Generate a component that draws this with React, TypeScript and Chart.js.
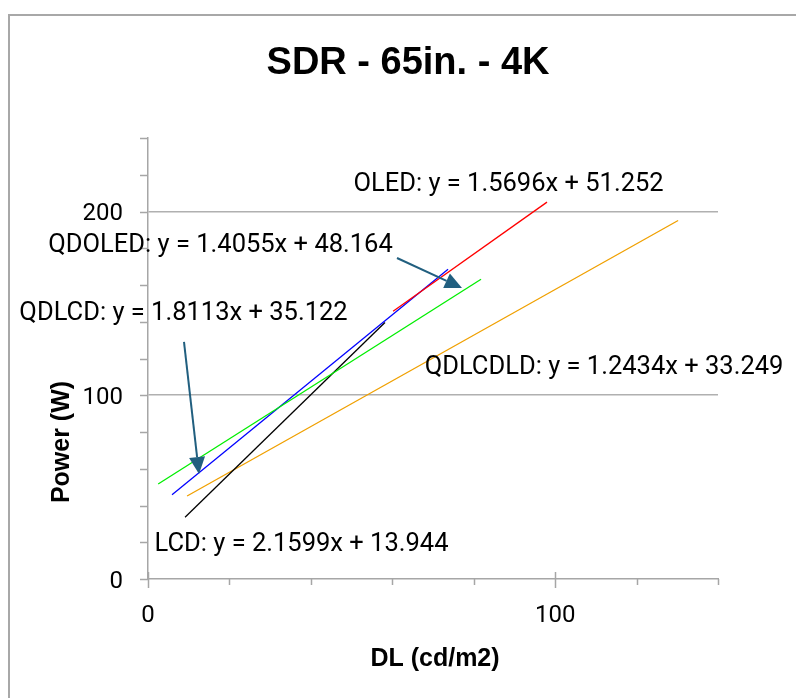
import React, { useEffect, useRef } from 'react';
import { Chart, registerables } from 'chart.js';
Chart.register(...registerables);

// Trend line endpoints (x = DL cd/m2, y = Power W)
const OLED_X = [60.2, 98.0];
const OLED_Y = [145.7, 205.1];
const QDOLED_X = [2.5, 81.8];
const QDOLED_Y = [51.7, 163.1];
const QDLCD_X = [5.9, 73.7];
const QDLCD_Y = [45.8, 168.6];
const LCD_X = [9.1, 58.2];
const LCD_Y = [33.6, 139.6];
const QDLCDLD_X = [9.6, 130.2];
const QDLCDLD_Y = [45.2, 195.1];

const SERIES_NAMES = ['OLED', 'QDOLED', 'QDLCD', 'LCD', 'QDLCDLD'];
const EQUATIONS = [
  'OLED: y = 1.5696x + 51.252',
  'QDOLED: y = 1.4055x + 48.164',
  'QDLCD: y = 1.8113x + 35.122',
  'LCD: y = 2.1599x + 13.944',
  'QDLCDLD: y = 1.2434x + 33.249',
];
const X_TICK_LABELS = [0, 100];
const Y_TICK_LABELS = [0, 100, 200];

const TITLE = 'SDR - 65in. - 4K';
const X_TITLE = 'DL (cd/m2)';
const Y_TITLE = 'Power (W)';

// layout (data-space anchors for the equation labels: centre x, baseline y)
const LABEL_POS = [
  [88.55, 211.2],
  [17.81, 178.2],
  [8.72, 140.7],
  [37.7, 15.0],
  [112.0, 111.3],
];
const ARROWS = [
  { from: [61.16, 174.7], to: [77.12, 158.4] },
  { from: [8.84, 129.0], to: [12.53, 57.1] },
];
const COLORS = ['#ff0000', '#00ee00', '#0000ff', '#000000', '#f0a000'];

const pts = (xs: number[], ys: number[]) => xs.map((x, i) => ({ x, y: ys[i] }));

const FONT = 'Roboto, "Liberation Sans", sans-serif';

const decor = {
  id: 'decor',
  afterDraw(chart: any) {
    const ctx = chart.ctx as CanvasRenderingContext2D;
    const xs = chart.scales.x;
    const ys = chart.scales.y;
    const { left, bottom } = chart.chartArea;
    ctx.save();
    // outer border
    ctx.strokeStyle = '#a8a8a8';
    ctx.lineWidth = 2;
    ctx.strokeRect(9, 15, 1000, 1000);

    // ticks
    ctx.strokeStyle = '#a6a6a6';
    ctx.lineWidth = 1.5;
    for (let v = 0; v <= 240; v += 20) {
      const py = Math.round(ys.getPixelForValue(v)) + 0.5;
      ctx.beginPath();
      ctx.moveTo(left - 8, py);
      ctx.lineTo(left, py);
      ctx.stroke();
    }
    for (let v = 0; v <= 140; v += 20) {
      const px = Math.round(xs.getPixelForValue(v)) + 0.5;
      const major = v % 100 === 0;
      ctx.beginPath();
      ctx.moveTo(px, major ? bottom - 7 : bottom);
      ctx.lineTo(px, major ? bottom + 9 : bottom + 6);
      ctx.stroke();
    }

    // tick labels
    ctx.fillStyle = '#000';
    ctx.font = `24px ${FONT}`;
    ctx.textBaseline = 'alphabetic';
    ctx.textAlign = 'right';
    Y_TICK_LABELS.forEach((v) => {
      ctx.fillText(String(v), left - 25, ys.getPixelForValue(v) + 8.5);
    });
    ctx.textAlign = 'center';
    X_TICK_LABELS.forEach((v) => {
      ctx.fillText(String(v), xs.getPixelForValue(v), bottom + 43);
    });

    // title
    ctx.font = `bold 38px "Liberation Sans", Arial, sans-serif`;
    ctx.fillText(TITLE, 408, 74);

    // axis titles
    ctx.font = `bold 25px "Liberation Sans", Arial, sans-serif`;
    ctx.fillText(X_TITLE, 435, bottom + 87);
    ctx.save();
    ctx.translate(left - 79, bottom - 137);
    ctx.rotate(-Math.PI / 2);
    ctx.fillText(Y_TITLE, 0, 0);
    ctx.restore();

    // arrows
    ctx.strokeStyle = '#215f7f';
    ctx.fillStyle = '#215f7f';
    ctx.lineWidth = 2;
    ARROWS.forEach((a) => {
      const x1 = xs.getPixelForValue(a.from[0]);
      const y1 = ys.getPixelForValue(a.from[1]);
      const x2 = xs.getPixelForValue(a.to[0]);
      const y2 = ys.getPixelForValue(a.to[1]);
      const ang = Math.atan2(y2 - y1, x2 - x1);
      const L = 17;
      const W = 8;
      const bx = x2 - L * Math.cos(ang);
      const by = y2 - L * Math.sin(ang);
      ctx.beginPath();
      ctx.moveTo(x1, y1);
      ctx.lineTo(bx, by);
      ctx.stroke();
      ctx.beginPath();
      ctx.moveTo(x2, y2);
      ctx.lineTo(bx + W * Math.sin(ang), by - W * Math.cos(ang));
      ctx.lineTo(bx - W * Math.sin(ang), by + W * Math.cos(ang));
      ctx.closePath();
      ctx.fill();
    });

    // equation labels
    ctx.fillStyle = '#000';
    ctx.font = `25.5px ${FONT}`;
    ctx.textAlign = 'center';
    EQUATIONS.forEach((t, i) => {
      ctx.fillText(t, xs.getPixelForValue(LABEL_POS[i][0]), ys.getPixelForValue(LABEL_POS[i][1]));
    });
    ctx.restore();
  },
};

export default function App() {
  const ref = useRef<HTMLCanvasElement>(null);
  useEffect(() => {
    const series = [
      pts(OLED_X, OLED_Y),
      pts(QDOLED_X, QDOLED_Y),
      pts(QDLCD_X, QDLCD_Y),
      pts(LCD_X, LCD_Y),
      pts(QDLCDLD_X, QDLCDLD_Y),
    ];
    const chart = new Chart(ref.current!, {
      type: 'scatter',
      data: {
        datasets: series.map((d, i) => ({
          label: SERIES_NAMES[i],
          data: d,
          showLine: true,
          borderColor: COLORS[i],
          backgroundColor: COLORS[i],
          borderWidth: 1.3,
          pointRadius: 0,
        })),
      },
      options: {
        responsive: false,
        animation: false,
        layout: { padding: { top: 138, right: 78, left: 0, bottom: 0 } },
        plugins: { legend: { display: false }, tooltip: { enabled: false }, title: { display: false } },
        scales: {
          x: {
            type: 'linear',
            min: 0,
            max: 140,
            ticks: { stepSize: 20, display: false },
            grid: { drawOnChartArea: false, drawTicks: false },
            border: { color: '#a6a6a6', width: 1.5 },
            afterFit: (s: any) => { s.height = 119; },
          },
          y: {
            type: 'linear',
            min: 0,
            max: 240,
            ticks: { stepSize: 20, display: false },
            grid: {
              drawTicks: false,
              lineWidth: 1.5,
              color: (c: any) => (c.tick && (c.tick.value === 100 || c.tick.value === 200) ? '#b0b0b0' : 'rgba(0,0,0,0)'),
            },
            border: { color: '#a6a6a6', width: 1.5 },
            afterFit: (s: any) => { s.width = 148; },
          },
        },
      },
      plugins: [decor],
    });
    return () => chart.destroy();
  }, []);
  return (
    <div style={{ position: 'absolute', left: 0, top: 0, width: 796, height: 698, background: '#fff' }}>
      <canvas ref={ref} width={796} height={698} style={{ display: 'block' }} />
    </div>
  );
}
